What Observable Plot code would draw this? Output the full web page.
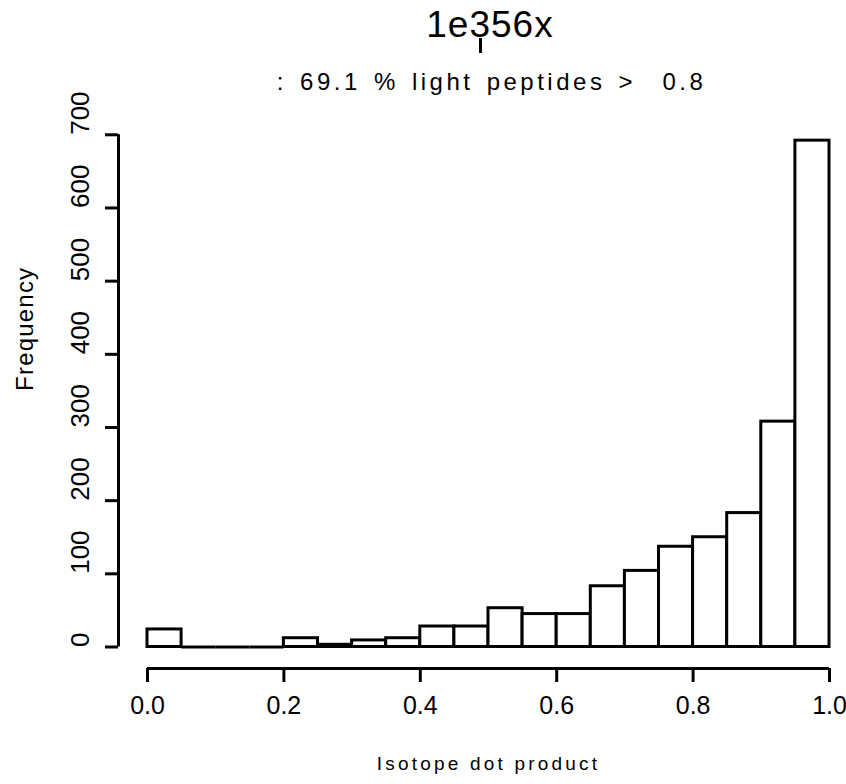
<!DOCTYPE html>
<html>
<head>
<meta charset="utf-8">
<script src="https://cdn.jsdelivr.net/npm/d3@7"></script>
<script src="https://cdn.jsdelivr.net/npm/@observablehq/plot@0.6"></script>
<style>
  html, body { margin: 0; padding: 0; background: #fff; }
  #wrap { position: relative; width: 846px; height: 784px; background: #fff; font-family: "Liberation Sans", Arial, sans-serif; color: #000; overflow: hidden; }
  #header { position: relative; width: 846px; height: 100px; }
  #title { position: absolute; left: 0; width: 980px; top: 6px; text-align: center; font-size: 37px; line-height: 1; letter-spacing: 1px; white-space: pre; }
  #tick { position: absolute; left: 479px; top: 38px; width: 3px; height: 15px; background: #000; }
  #subtitle { position: absolute; left: 0; width: 983px; top: 70px; text-align: center; font-size: 24px; line-height: 1; letter-spacing: 3.5px; word-spacing: 3px; white-space: pre; }
  #chart svg { display: block; }
</style>
</head>
<body>
<div id="wrap">
  <div id="header">
    <div id="title"></div>
    <div id="tick"></div>
    <div id="subtitle"></div>
  </div>
  <div id="chart"></div>
</div>
<script>
// ---- data ----
const binStart = [0.00, 0.05, 0.10, 0.15, 0.20, 0.25, 0.30, 0.35, 0.40, 0.45, 0.50, 0.55, 0.60, 0.65, 0.70, 0.75, 0.80, 0.85, 0.90, 0.95];
const binEnd   = [0.05, 0.10, 0.15, 0.20, 0.25, 0.30, 0.35, 0.40, 0.45, 0.50, 0.55, 0.60, 0.65, 0.70, 0.75, 0.80, 0.85, 0.90, 0.95, 1.00];
const counts   = [24, 0, 0, 0, 12, 3, 9, 12, 28, 28, 53, 45, 45, 83, 104, 137, 150, 183, 308, 692];
const xTicks = [0.0, 0.2, 0.4, 0.6, 0.8, 1.0];
const yTicks = [0, 100, 200, 300, 400, 500, 600, 700];
const titleText = "1e356x";
const subtitleText = ": 69.1 % light peptides >  0.8";
const xLabel = "Isotope dot product";
const yLabel = "Frequency";

document.getElementById("title").textContent = titleText;
document.getElementById("subtitle").textContent = subtitleText;

const bins = binStart.map((s, i) => ({x1: s, x2: binEnd[i], count: counts[i]}));

const font = '"Liberation Sans", Arial, sans-serif';
const lw = 3;

const chart = Plot.plot({
  width: 846,
  height: 684,
  marginTop: 34.3,
  marginBottom: 137.5,
  marginLeft: 147,
  marginRight: 17,
  x: {domain: [0, 1]},
  y: {domain: [0, 700]},
  style: {fontFamily: font, background: "#fff", color: "#000", overflow: "visible"},
  marks: [
    Plot.rectY(bins, {x1: "x1", x2: "x2", y: "count", fill: "#fff", stroke: "#000", strokeWidth: lw}),
    Plot.ruleY(bins.filter(d => d.count === 0), {x1: "x1", x2: "x2", y: 0, stroke: "#000", strokeWidth: lw}),
    // y axis (offset, R style)
    Plot.ruleX([0], {y1: yTicks[0], y2: yTicks[yTicks.length - 1], dx: -29, stroke: "#000", strokeWidth: lw}),
    Plot.axisY({ticks: yTicks, tickSize: 13, dx: -29, tickFormat: () => "", label: null, strokeWidth: lw}),
    Plot.text(yTicks, {y: d => d, text: d => String(d), frameAnchor: "left", dx: -67, rotate: -90, fontSize: 26}),
    Plot.text([yLabel], {frameAnchor: "left", dx: -122, rotate: -90, fontSize: 24}),
    // x axis (offset, R style)
    Plot.ruleY([0], {x1: xTicks[0], x2: xTicks[xTicks.length - 1], dy: 21.5, stroke: "#000", strokeWidth: lw}),
    Plot.axisX({ticks: xTicks, tickSize: 14, dy: 21.5, tickFormat: () => "", label: null, strokeWidth: lw}),
    Plot.text(xTicks, {x: d => d, text: d => d.toFixed(1), frameAnchor: "bottom", dy: 66.5, fontSize: 25}),
    Plot.text([xLabel], {frameAnchor: "bottom", dy: 122.5, fontSize: 19})
  ]
});

// letter spacing for the axis titles (matches the wide bitmap font of the reference)
chart.querySelectorAll("text").forEach(t => {
  if (t.textContent === xLabel) t.style.letterSpacing = "3.2px";
  if (t.textContent === yLabel) t.style.letterSpacing = "1.2px";
});

document.getElementById("chart").appendChild(chart);
</script>
</body>
</html>
